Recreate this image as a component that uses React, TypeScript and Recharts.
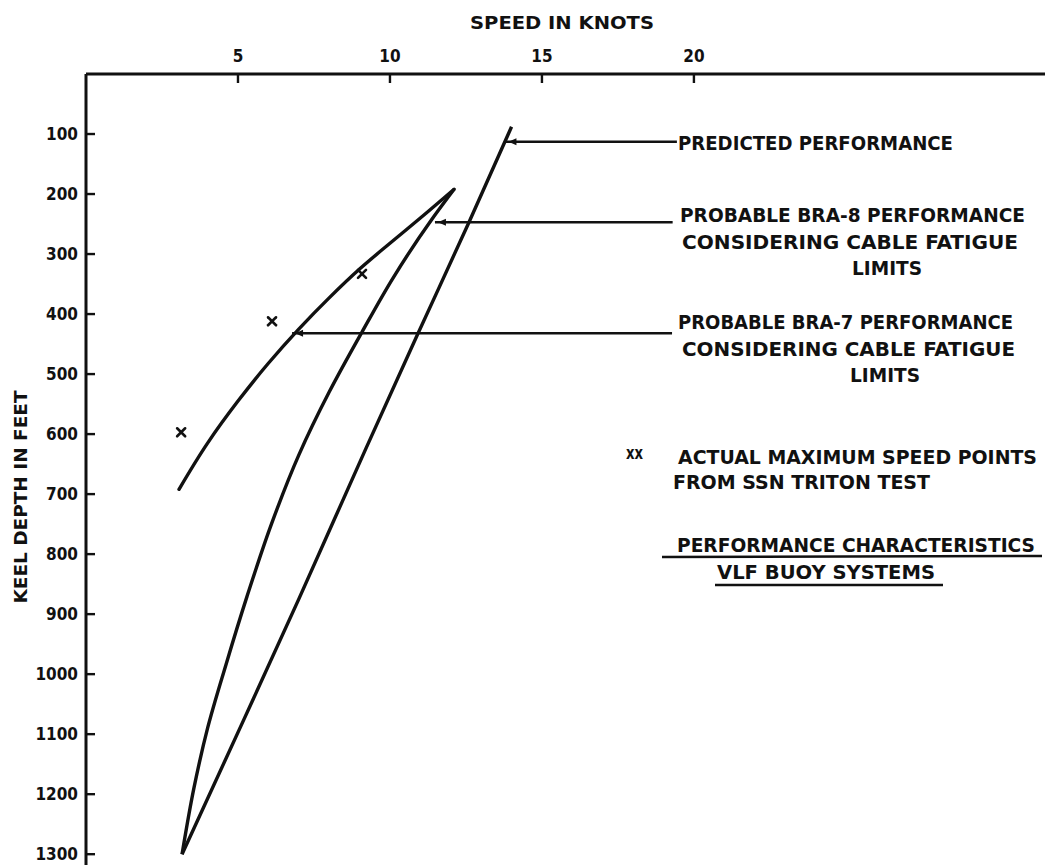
import { ComposedChart, Line, Scatter, XAxis, YAxis } from "recharts";

// speed in knots (x) / keel depth in feet (y)
const speedTicks = [5, 10, 15, 20];
const depthTicks = [100, 200, 300, 400, 500, 600, 700, 800, 900, 1000, 1100, 1200, 1300];

const predicted = [
  { speed: 14.0, depth: 88 },
  { speed: 12.6, depth: 247 },
  { speed: 10.88, depth: 437 },
  { speed: 9.2, depth: 625 },
  { speed: 7.0, depth: 875 },
  { speed: 5.2, depth: 1075 },
  { speed: 3.16, depth: 1300 },
];

const bra8 = [
  { speed: 12.11, depth: 192 },
  { speed: 11.38, depth: 242 },
  { speed: 10.1, depth: 340 },
  { speed: 9.08, depth: 430 },
  { speed: 8.0, depth: 530 },
  { speed: 7.0, depth: 635 },
  { speed: 6.1, depth: 750 },
  { speed: 5.3, depth: 870 },
  { speed: 4.6, depth: 985 },
  { speed: 4.0, depth: 1090 },
  { speed: 3.55, depth: 1190 },
  { speed: 3.16, depth: 1300 },
];

const bra7 = [
  { speed: 3.06, depth: 692 },
  { speed: 4.0, depth: 615 },
  { speed: 5.0, depth: 545 },
  { speed: 6.0, depth: 482 },
  { speed: 7.0, depth: 425 },
  { speed: 8.0, depth: 373 },
  { speed: 9.0, depth: 325 },
  { speed: 10.0, depth: 282 },
  { speed: 11.0, depth: 240 },
  { speed: 12.11, depth: 192 },
];

const tritonPoints = [
  { speed: 3.13, depth: 597 },
  { speed: 6.12, depth: 412 },
  { speed: 9.08, depth: 333 },
];

const predictedLeader = [
  { speed: 13.8, depth: 113 },
  { speed: 19.44, depth: 113 },
];
const bra8Leader = [
  { speed: 11.48, depth: 247 },
  { speed: 19.3, depth: 247 },
];
const bra7Leader = [
  { speed: 6.78, depth: 432 },
  { speed: 19.28, depth: 432 },
];

const INK = "#111";
const FONT = "'DejaVu Sans Condensed', 'DejaVu Sans', sans-serif";

function SpeedTick(props: any) {
  const { x, y, payload } = props;
  return (
    <g>
      <line x1={x} y1={y} x2={x} y2={y + 9} stroke={INK} strokeWidth={2.4} />
      <text
        x={x}
        y={y - 12}
        textAnchor="middle"
        fontFamily={FONT}
        fontWeight="bold"
        fontSize={17}
        fill={INK}
      >
        {payload.value}
      </text>
    </g>
  );
}

function DepthTick(props: any) {
  const { x, y, payload } = props;
  return (
    <g>
      <line x1={x} y1={y} x2={x + 9} y2={y} stroke={INK} strokeWidth={2.4} />
      <text
        x={x - 8}
        y={y + 6}
        textAnchor="end"
        fontFamily={FONT}
        fontWeight="bold"
        fontSize={17}
        fill={INK}
      >
        {payload.value}
      </text>
    </g>
  );
}

function ArrowDot(props: any) {
  const { cx, cy, index } = props;
  if (index !== 0 || cx == null) return <g key={"a" + index} />;
  return (
    <path
      key={"a" + index}
      d={`M${cx + 3},${cy} L${cx + 11},${cy - 3.5} L${cx + 11},${cy + 3.5} Z`}
      fill={INK}
    />
  );
}

function CrossMark(props: any) {
  const { cx, cy } = props;
  const s = 4;
  return (
    <g stroke={INK} strokeWidth={2.6} strokeLinecap="round">
      <line x1={cx - s} y1={cy - s} x2={cx + s} y2={cy + s} />
      <line x1={cx - s} y1={cy + s} x2={cx + s} y2={cy - s} />
    </g>
  );
}

type Note = { text: string; x: number; y: number; w: number; size?: number };

const notes: Note[] = [
  { text: "SPEED IN KNOTS", x: 470, y: 29, w: 184, size: 18 },
  { text: "PREDICTED PERFORMANCE", x: 678, y: 150, w: 275 },
  { text: "PROBABLE BRA-8 PERFORMANCE", x: 680, y: 222, w: 345 },
  { text: "CONSIDERING CABLE FATIGUE", x: 682, y: 249, w: 336 },
  { text: "LIMITS", x: 852, y: 275, w: 70 },
  { text: "PROBABLE BRA-7 PERFORMANCE", x: 678, y: 329, w: 335 },
  { text: "CONSIDERING CABLE FATIGUE", x: 682, y: 356, w: 333 },
  { text: "LIMITS", x: 850, y: 382, w: 70 },
  { text: "ACTUAL MAXIMUM SPEED POINTS", x: 678, y: 464, w: 359 },
  { text: "FROM SSN TRITON TEST", x: 673, y: 489, w: 257 },
  { text: "PERFORMANCE CHARACTERISTICS", x: 677, y: 552, w: 358 },
  { text: "VLF BUOY SYSTEMS", x: 717, y: 579, w: 218 },
];

function Annotations() {
  return (
    <svg
      width={1056}
      height={865}
      style={{ position: "absolute", left: 0, top: 0, pointerEvents: "none" }}
    >
      <g fontFamily={FONT} fontWeight="bold" fill={INK}>
        {notes.map((n, i) => (
          <text
            key={i}
            x={n.x}
            y={n.y}
            fontSize={n.size ?? 19}
            textLength={n.w}
            lengthAdjust="spacingAndGlyphs"
          >
            {n.text}
          </text>
        ))}
        <text x={626} y={459} fontSize={18} textLength={17} lengthAdjust="spacingAndGlyphs">
          xx
        </text>
        <text
          transform="translate(27,497) rotate(-90)"
          textAnchor="middle"
          fontSize={18}
          textLength={213}
          lengthAdjust="spacingAndGlyphs"
        >
          KEEL DEPTH IN FEET
        </text>
      </g>
      <line x1={662} y1={557} x2={1042} y2={556} stroke={INK} strokeWidth={2.6} />
      <line x1={715} y1={585} x2={943} y2={585} stroke={INK} strokeWidth={2.6} />
    </svg>
  );
}

export default function App() {
  return (
    <div
      style={{
        position: "absolute",
        left: 0,
        top: 0,
        width: 1056,
        height: 865,
        background: "#fff",
      }}
    >
      <ComposedChart
        width={1056}
        height={865}
        margin={{ top: 44, right: 11, bottom: 0, left: 36 }}
      >
        <XAxis
          xAxisId="s"
          orientation="top"
          type="number"
          dataKey="speed"
          domain={[0, 31.55]}
          ticks={speedTicks}
          height={30}
          tickSize={0}
          tickMargin={0}
          tickLine={false}
          axisLine={{ stroke: INK, strokeWidth: 3 }}
          tick={<SpeedTick />}
          interval={0}
        />
        <YAxis
          yAxisId="d"
          type="number"
          dataKey="depth"
          reversed
          domain={[0, 1318]}
          ticks={depthTicks}
          width={50}
          tickSize={0}
          tickMargin={0}
          tickLine={false}
          axisLine={{ stroke: INK, strokeWidth: 3 }}
          tick={<DepthTick />}
          interval={0}
        />
        <Line
          xAxisId="s"
          yAxisId="d"
          data={predicted}
          dataKey="depth"
          type="monotoneY"
          stroke={INK}
          strokeWidth={3.4}
          dot={false}
          activeDot={false}
          isAnimationActive={false}
        />
        <Line
          xAxisId="s"
          yAxisId="d"
          data={bra8}
          dataKey="depth"
          type="monotoneY"
          stroke={INK}
          strokeWidth={3.4}
          dot={false}
          activeDot={false}
          isAnimationActive={false}
        />
        <Line
          xAxisId="s"
          yAxisId="d"
          data={bra7}
          dataKey="depth"
          type="monotoneY"
          stroke={INK}
          strokeWidth={3.4}
          strokeLinecap="round"
          dot={false}
          activeDot={false}
          isAnimationActive={false}
        />
        {[predictedLeader, bra8Leader, bra7Leader].map((d, i) => (
          <Line
            key={i}
            xAxisId="s"
            yAxisId="d"
            data={d}
            dataKey="depth"
            type="linear"
            stroke={INK}
            strokeWidth={2.6}
            dot={<ArrowDot />}
            activeDot={false}
            isAnimationActive={false}
          />
        ))}
        <Scatter
          xAxisId="s"
          yAxisId="d"
          data={tritonPoints}
          dataKey="depth"
          shape={<CrossMark />}
          isAnimationActive={false}
        />
      </ComposedChart>
      <Annotations />
    </div>
  );
}
